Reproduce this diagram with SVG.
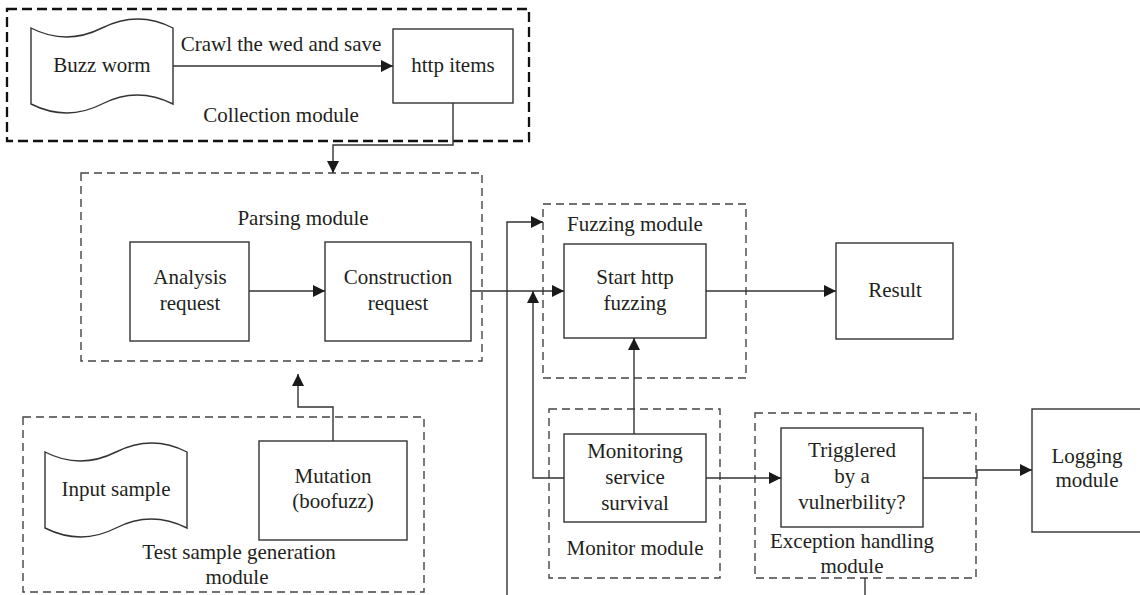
<svg xmlns="http://www.w3.org/2000/svg" width="1140" height="595" viewBox="0 0 1140 595">
<style>
  text { font-family: 'Liberation Serif', 'DejaVu Serif', 'Times New Roman', serif; font-size: 21px; fill: #231f20; text-anchor: middle; }
  .box { fill: #fff; stroke: #333; stroke-width: 1.4; }
  .mod { fill: none; stroke: #444; stroke-width: 1.4; stroke-dasharray: 8 5; }
  .mod2 { fill: none; stroke: #111; stroke-width: 2.3; stroke-dasharray: 10 5; }
  .ln { fill: none; stroke: #333; stroke-width: 1.4; }
  .arr { marker-end: url(#ah); }
</style>
<defs>
  <marker id="ah" markerWidth="13" markerHeight="13" viewBox="0 0 13 13" refX="12" refY="6.5" orient="auto" markerUnits="userSpaceOnUse">
    <path d="M0,0.5 L12,6.5 L0,12.5 Z" fill="#1a1a1a"/>
  </marker>
</defs>
<rect width="1140" height="595" fill="#fff"/>

<g font-family="Liberation Serif, DejaVu Serif, serif">
<g id="collection-module">
  <rect class="mod2" x="7" y="9" width="522" height="132"/>
  <text x="281" y="122">Collection module</text>
</g>
<g id="buzz-worm">
  <path class="box" d="M31,28 Q66,46 102,28 T173,28 L173,104 Q137,86 102,104 T31,104 Z"/>
  <text x="102" y="72">Buzz worm</text>
</g>
<g id="crawl-label">
  <text x="281" y="51">Crawl the wed and save</text>
</g>
<g id="http-items">
  <rect class="box" x="393" y="29" width="120" height="74"/>
  <text x="453" y="72">http items</text>
</g>

<g id="parsing-module">
  <rect class="mod" x="81" y="173" width="401" height="188"/>
  <text x="303" y="225">Parsing module</text>
</g>
<g id="analysis-request">
  <rect class="box" x="130" y="242" width="119" height="99"/>
  <text x="190" y="284">Analysis</text>
  <text x="190" y="310">request</text>
</g>
<g id="construction-request">
  <rect class="box" x="325" y="242" width="146" height="99"/>
  <text x="398" y="284">Construction</text>
  <text x="398" y="310">request</text>
</g>

<g id="fuzzing-module">
  <rect class="mod" x="543" y="204" width="203" height="174"/>
  <text x="635" y="231">Fuzzing module</text>
</g>
<g id="start-http-fuzzing">
  <rect class="box" x="564" y="244" width="142" height="94"/>
  <text x="635" y="284">Start http</text>
  <text x="635" y="310">fuzzing</text>
</g>
<g id="result">
  <rect class="box" x="836" y="243" width="117" height="96"/>
  <text x="895" y="297">Result</text>
</g>

<g id="test-sample-generation-module">
  <rect class="mod" x="23" y="417" width="401" height="175"/>
  <text x="239" y="559">Test sample generation</text>
  <text x="237" y="584">module</text>
</g>
<g id="input-sample">
  <path class="box" d="M45,452 Q80,470 116,452 T187,452 L187,528 Q151,510 116,528 T45,528 Z"/>
  <text x="116" y="496">Input sample</text>
</g>
<g id="mutation">
  <rect class="box" x="259" y="441" width="148" height="99"/>
  <text x="333" y="483">Mutation</text>
  <text x="333" y="508">(boofuzz)</text>
</g>

<g id="monitor-module">
  <rect class="mod" x="549" y="409" width="171" height="169"/>
  <text x="635" y="555">Monitor module</text>
</g>
<g id="monitoring-service-survival">
  <rect class="box" x="564" y="434" width="142" height="88"/>
  <text x="635" y="458">Monitoring</text>
  <text x="635" y="484">service</text>
  <text x="635" y="510">survival</text>
</g>

<g id="exception-handling-module">
  <rect class="mod" x="755" y="413" width="221" height="165"/>
  <text x="852" y="548">Exception handling</text>
  <text x="852" y="573">module</text>
</g>
<g id="triggered">
  <rect class="box" x="781" y="428" width="142" height="99"/>
  <text x="852" y="457">Trigglered</text>
  <text x="852" y="483">by a</text>
  <text x="852" y="509">vulnerbility?</text>
</g>
<g id="logging-module">
  <rect class="box" x="1032" y="409" width="110" height="123"/>
  <text x="1087" y="463">Logging</text>
  <text x="1087" y="487">module</text>
</g>
</g>

<g id="connectors">
  <path class="ln arr" d="M173,66 L393,66"/>
  <path class="ln arr" d="M453,103 L453,145 L333,145 L333,173"/>
  <path class="ln arr" d="M249,291 L325,291"/>
  <path class="ln arr" d="M471,291 L564,291"/>
  <path class="ln arr" d="M706,291 L836,291"/>
  <path class="ln arr" d="M507,595 L507,222 L543,222"/>
  <path class="ln arr" d="M564,478 L533,478 L533,291"/>
  <path class="ln arr" d="M634,434 L634,338"/>
  <path class="ln arr" d="M706,478 L781,478"/>
  <path class="ln arr" d="M923,478 L977,478 L977,470 L1032,470"/>
  <path class="ln arr" d="M333,441 L333,407 L298,407 L298,374"/>
  <path class="ln" d="M865,578 L865,595"/>
</g>
</svg>
